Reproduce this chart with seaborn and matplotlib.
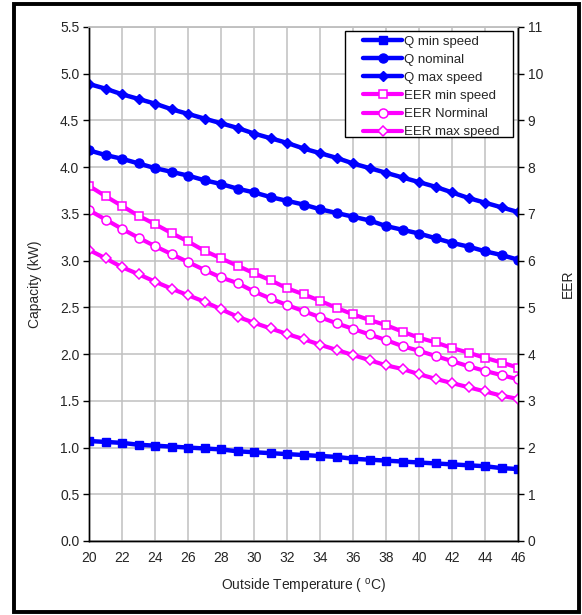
"""
Capacity and EER against outside temperature, at three compressor speeds.

Writes: out.png
"""

import matplotlib.pyplot as plt
import pandas as pd
import seaborn as sns
from matplotlib.patches import Rectangle

temps = list(range(20, 47))

# capacity, kW (left axis)
q_min = [1.07, 1.06, 1.05, 1.03, 1.02, 1.01, 1.00, 0.99, 0.98, 0.96, 0.95, 0.94, 0.93, 0.92,
         0.91, 0.90, 0.88, 0.87, 0.86, 0.85, 0.84, 0.83, 0.82, 0.81, 0.80, 0.78, 0.77]
q_nominal = [4.18, 4.13, 4.09, 4.04, 3.99, 3.95, 3.91, 3.86, 3.82, 3.77, 3.73, 3.68, 3.64, 3.60,
             3.55, 3.51, 3.47, 3.43, 3.37, 3.33, 3.29, 3.24, 3.19, 3.15, 3.10, 3.06, 3.01]
q_max = [4.89, 4.84, 4.78, 4.73, 4.68, 4.62, 4.57, 4.52, 4.47, 4.42, 4.36, 4.31, 4.26, 4.20,
         4.15, 4.10, 4.04, 3.99, 3.94, 3.89, 3.84, 3.79, 3.73, 3.67, 3.62, 3.57, 3.52]

# EER (right axis)
eer_min = [7.60, 7.38, 7.17, 6.96, 6.78, 6.59, 6.41, 6.21, 6.05, 5.89, 5.73, 5.58, 5.41, 5.28,
           5.14, 4.99, 4.85, 4.73, 4.62, 4.48, 4.35, 4.25, 4.13, 4.03, 3.92, 3.82, 3.71]
eer_nominal = [7.08, 6.88, 6.68, 6.49, 6.31, 6.14, 5.97, 5.80, 5.64, 5.52, 5.34, 5.19, 5.05, 4.92,
               4.79, 4.66, 4.54, 4.42, 4.30, 4.17, 4.07, 3.96, 3.85, 3.74, 3.64, 3.55, 3.46]
eer_max = [6.23, 6.05, 5.86, 5.71, 5.55, 5.40, 5.26, 5.12, 4.96, 4.80, 4.67, 4.55, 4.43, 4.32,
           4.20, 4.09, 3.98, 3.87, 3.76, 3.68, 3.57, 3.47, 3.38, 3.29, 3.20, 3.11, 3.04]

q_labels = ["Q min speed", "Q nominal", "Q max speed"]
eer_labels = ["EER min speed", "EER Norminal", "EER max speed"]

BLUE = "#0000ff"
MAGENTA = "#ff00ff"
GRID = "#c0c0c0"

sns.set_style("white")
plt.rcParams["font.family"] = ["Liberation Sans", "DejaVu Sans"]
plt.rcParams["mathtext.default"] = "regular"


def main() -> None:
    df = pd.DataFrame({
        "T": temps,
        "q_min": q_min, "q_nom": q_nominal, "q_max": q_max,
        "eer_min": eer_min, "eer_nom": eer_nominal, "eer_max": eer_max,
    })

    fig = plt.figure(figsize=(5.82, 6.15), dpi=100)
    ax = fig.add_axes([89 / 582, 74 / 615, 429 / 582, 514 / 615])
    ax2 = ax.twinx()

    q_styles = [("q_min", "s", 5.5), ("q_nom", "o", 6.5), ("q_max", "D", 5.0)]
    for (col, mk, ms), lab in zip(q_styles, q_labels):
        sns.lineplot(data=df, x="T", y=col, ax=ax, color=BLUE, linewidth=3.2,
                     marker=mk, markersize=ms, markerfacecolor=BLUE,
                     markeredgecolor=BLUE, markeredgewidth=1, label=lab, legend=False)

    eer_styles = [("eer_min", "s", 5.5), ("eer_nom", "o", 6.5), ("eer_max", "D", 5.0)]
    for (col, mk, ms), lab in zip(eer_styles, eer_labels):
        sns.lineplot(data=df, x="T", y=col, ax=ax2, color=MAGENTA, linewidth=3.0,
                     marker=mk, markersize=ms, markerfacecolor="white",
                     markeredgecolor=MAGENTA, markeredgewidth=1.1, label=lab, legend=False)

    ax.set_xlim(20, 46)
    ax.set_ylim(0, 5.5)
    ax2.set_ylim(0, 11)
    ax.set_xticks(range(20, 47, 2))
    ax.set_yticks([i * 0.5 for i in range(12)])
    ax.set_yticklabels([f"{i * 0.5:.1f}" for i in range(12)])
    ax2.set_yticks(range(12))

    ax.grid(True, color=GRID, linewidth=1.1)
    ax.set_axisbelow(True)
    for a in (ax, ax2):
        for side in ("left", "right", "bottom"):
            a.spines[side].set_color("black")
            a.spines[side].set_linewidth(1.0)
        a.spines["top"].set_color(GRID)
        a.spines["top"].set_linewidth(1.1)
        a.tick_params(direction="out", length=4, width=1, color="black",
                      labelsize=10, pad=3)

    ax.set_xlabel("Outside Temperature ( $^{o}$C)", fontsize=10, labelpad=9)
    ax.set_ylabel("Capacity (kW)", fontsize=10, labelpad=13)
    ax2.set_ylabel("EER", fontsize=10, labelpad=13)

    # legend box drawn by hand: Excel pads it wider than matplotlib does
    ax2.add_patch(Rectangle((0.597, 0.786), 0.392, 0.206, transform=ax2.transAxes,
                            facecolor="white", edgecolor="black", linewidth=1.0,
                            zorder=4))
    handles = ax.get_lines()[:3] + ax2.get_lines()[:3]
    leg = ax2.legend(handles, q_labels + eer_labels, loc="upper right",
                     bbox_to_anchor=(0.956, 0.983), borderaxespad=0, fontsize=9.5,
                     handlelength=2.95, handletextpad=0.1, labelspacing=0.44,
                     borderpad=0, frameon=False)
    leg.set_zorder(5)

    fig.patches.append(Rectangle((14 / 582, 3 / 615), 565 / 582, 608 / 615,
                                 transform=fig.transFigure, fill=False,
                                 edgecolor="black", linewidth=2.8))

    fig.savefig("out.png", dpi=100)


if __name__ == "__main__":
    main()
